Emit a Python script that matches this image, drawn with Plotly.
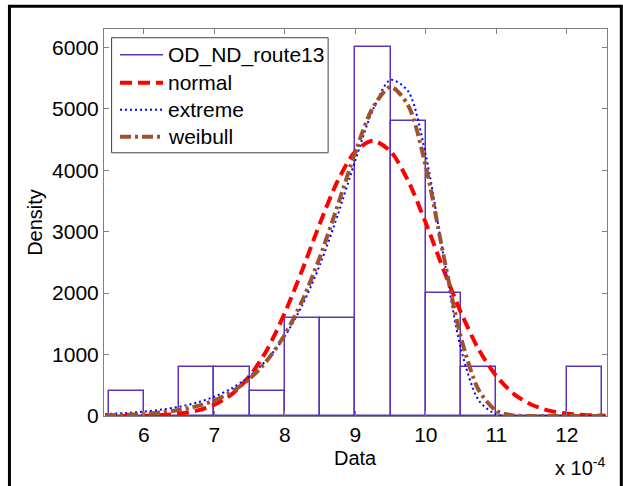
import plotly.graph_objects as go

# Histogram (x in units of 1e-4)
bin_centers = [5.75, 6.25, 6.75, 7.25, 7.75, 8.25, 8.75, 9.25, 9.75, 10.25, 10.75, 11.25, 11.75, 12.25]
bin_density = [400, 0, 800, 800, 400, 1600, 1600, 6000, 4800, 2000, 800, 0, 0, 800]
bin_width = 0.5

# Fitted density curves
curve_x = [5.45, 5.75, 6.0, 6.25, 6.5, 6.75, 7.0, 7.25, 7.5, 7.75, 8.0, 8.25, 8.5, 8.75,
           9.0, 9.25, 9.5, 9.75, 10.0, 10.25, 10.5, 10.75, 11.0, 11.25, 11.5, 11.75,
           12.0, 12.25, 12.55]
normal_y = [1, 2, 6, 15, 38, 87, 184, 357, 650, 1083, 1680, 2385, 3141, 3826,
            4307, 4480, 4307, 3826, 3141, 2385, 1680, 1083, 650, 357, 184, 87,
            38, 15, 5]
extreme_y = [32, 49, 72, 104, 150, 218, 314, 452, 647, 922, 1299, 1809, 2467, 3271,
             4162, 4986, 5472, 5285, 4246, 2609, 1083, 255, 26, 1, 0, 0,
             0, 0, 0]
weibull_y = [10, 20, 35, 60, 98, 160, 254, 396, 605, 906, 1325, 1884, 2596, 3429,
             4296, 5023, 5356, 5056, 4060, 2622, 1273, 424, 85, 9, 0, 0,
             0, 0, 0]

x_ticks = [6, 7, 8, 9, 10, 11, 12]
y_ticks = [0, 1000, 2000, 3000, 4000, 5000, 6000]
legend_names = ["OD_ND_route13", "normal", "extreme", "weibull"]

PURPLE = "#5a32be"
RED = "#ff0000"
BLUE = "#0000ff"
BROWN = "#a0522d"
FONT = "Liberation Sans, Arial, sans-serif"

styles = {
    "OD_ND_route13": dict(color=PURPLE, width=1.5, dash="solid"),
    "normal": dict(color=RED, width=4, dash="12px,6px"),
    "extreme": dict(color=BLUE, width=2, dash="2px,3px"),
    "weibull": dict(color=BROWN, width=4, dash="11px,4px,3px,4px"),
}

fig = go.Figure()
fig.add_trace(go.Bar(x=bin_centers, y=bin_density, width=bin_width,
                     marker=dict(color="rgba(0,0,0,0)", line=dict(color=PURPLE, width=1.5)),
                     showlegend=False, name="OD_ND_route13"))
for name, ys in [("normal", normal_y), ("extreme", extreme_y), ("weibull", weibull_y)]:
    st = styles[name]
    fig.add_trace(go.Scatter(x=curve_x, y=ys, mode="lines", name=name, showlegend=False,
                             line=dict(color=st["color"], width=st["width"], dash=st["dash"],
                                       shape="spline", smoothing=0.8)))

# pixel -> paper helpers for the plot area (l=104, r=606.7, t=29.3, b=416)
PL, PW, PB, PH = 104.0, 502.7, 416.0, 386.7
def px(v):
    return (v - PL) / PW
def py(v):
    return (PB - v) / PH

shapes = [
    # outer frame
    dict(type="rect", xref="paper", yref="paper", x0=px(9.5), x1=px(621), y0=py(500), y1=py(6.5),
         line=dict(color="black", width=3), fillcolor="rgba(0,0,0,0)", layer="above"),
    # legend box
    dict(type="rect", xref="paper", yref="paper", x0=px(111.6), x1=px(328), y0=py(153), y1=py(38),
         line=dict(color="#404040", width=1), fillcolor="white", layer="above"),
]
annotations = []
legend_y = [55, 83, 110, 137]
for name, yc in zip(legend_names, legend_y):
    st = styles[name]
    shapes.append(dict(type="line", xref="paper", yref="paper", x0=px(120), x1=px(163),
                       y0=py(yc), y1=py(yc), layer="above",
                       line=dict(color=st["color"], width=st["width"], dash=st["dash"])))
    annotations.append(dict(xref="paper", yref="paper", x=px(166), y=py(yc), xanchor="left",
                            yanchor="middle", text=name, showarrow=False,
                            font=dict(size=21, family=FONT, color="black")))
# x-axis title and exponent label
annotations.append(dict(xref="paper", yref="paper", x=0.5, y=py(458), xanchor="center",
                        yanchor="middle", text="Data", showarrow=False,
                        font=dict(size=20, family=FONT, color="black")))
annotations.append(dict(xref="paper", yref="paper", x=1.0, y=-0.093, xanchor="right", yanchor="top",
                        text="x 10<sup>-4</sup>", showarrow=False,
                        font=dict(size=20, family=FONT, color="black")))

axis_common = dict(showline=True, linecolor="#808080", linewidth=1, mirror="ticks",
                   ticks="inside", ticklen=5, tickcolor="#808080", showgrid=False,
                   zeroline=False, tickfont=dict(size=21, color="black", family=FONT))

fig.update_layout(
    width=623, height=486,
    margin=dict(l=104, r=16, t=29, b=70),
    paper_bgcolor="white", plot_bgcolor="white",
    font=dict(family=FONT, size=20, color="black"),
    bargap=0, showlegend=False,
    xaxis=dict(range=[5.435, 12.57], tickvals=x_ticks, ticktext=[str(v) for v in x_ticks],
               **axis_common),
    yaxis=dict(range=[0, 6300], tickvals=y_ticks, ticktext=[str(v) for v in y_ticks],
               title=dict(text="Density", standoff=4, font=dict(size=20)), **axis_common),
    annotations=annotations,
    shapes=shapes,
)

fig.write_html("out.html", config={"displayModeBar": False},
               post_script="document.body.style.margin='0';document.body.style.overflow='hidden';")
